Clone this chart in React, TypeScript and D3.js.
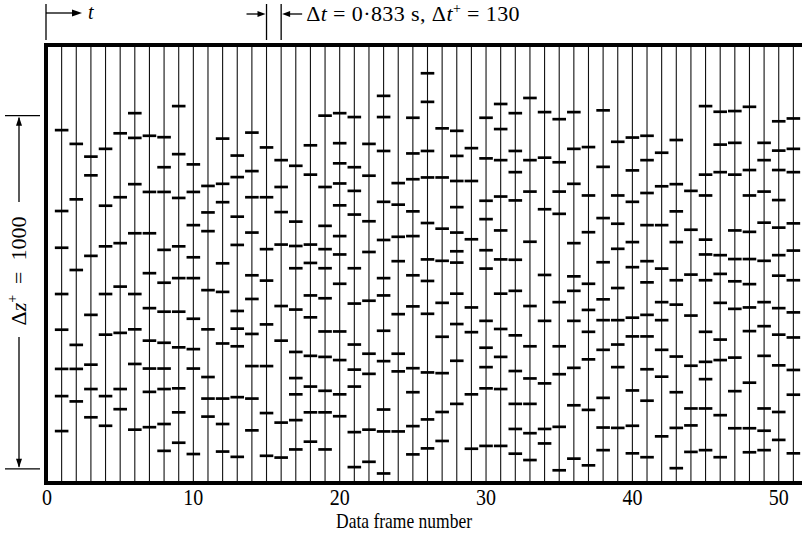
import React from 'react';
import * as d3 from 'd3';

const W = 802;
const H = 540;

// Tick labels on the frame axis
const tickFrames = [0, 10, 20, 30, 40, 50];
const tickLabels = ['0', '10', '20', '30', '40', '50'];

// Last frame line drawn (partly outside the view)
const frameCount = 52;

// Heights (Δz⁺ units, from the bottom of the field) of the marks on each frame, frames 1..51
const dashZ: number[][] = [
  [999, 770, 666, 535, 434, 323, 246, 147],
  [960, 803, 603, 391, 323, 231],
  [924, 871, 643, 476, 335, 266, 186],
  [946, 785, 670, 535, 420, 246, 162],
  [990, 809, 679, 556, 425, 266, 209],
  [1047, 977, 846, 707, 535, 435, 337, 151],
  [983, 824, 707, 594, 495, 403, 324, 258, 158],
  [979, 894, 824, 660, 567, 485, 397, 324, 266, 167, 91],
  [1067, 931, 807, 670, 580, 485, 384, 268, 200, 114],
  [902, 824, 730, 639, 580, 465, 379, 324, 82],
  [841, 766, 713, 546, 435, 300, 239, 188],
  [975, 847, 795, 622, 541, 395, 239, 167, 89],
  [927, 866, 754, 674, 487, 437, 387, 243, 74],
  [992, 883, 809, 709, 588, 521, 422, 331, 239, 149],
  [950, 809, 662, 573, 449, 331, 198, 77],
  [914, 838, 767, 675, 501, 403, 171, 72],
  [898, 740, 671, 608, 491, 371, 297, 251, 178, 95],
  [956, 873, 675, 623, 531, 469, 360, 273, 200, 117],
  [1040, 838, 728, 662, 608, 523, 429, 357, 261, 200, 95],
  [1047, 962, 905, 848, 786, 699, 647, 564, 429, 348, 251, 189],
  [1036, 894, 827, 760, 608, 508, 392, 321, 273, 144, 45],
  [960, 870, 741, 654, 516, 366, 309, 151, 60],
  [1096, 1036, 940, 796, 688, 580, 531, 431, 345, 208, 146, 27],
  [849, 788, 697, 628, 478, 366, 316, 146],
  [1034, 933, 860, 769, 699, 588, 500, 325, 257, 161, 81],
  [1160, 1079, 940, 865, 736, 633, 572, 479, 313, 180, 98],
  [1004, 865, 720, 629, 510, 414, 311, 201, 119],
  [997, 926, 855, 781, 709, 656, 624, 536, 450, 346, 224],
  [948, 855, 690, 497, 427, 251, 97],
  [1034, 919, 799, 747, 659, 607, 459, 383, 328, 268, 105],
  [1073, 1002, 914, 811, 715, 633, 536, 436, 357, 266, 105],
  [1047, 940, 880, 800, 632, 544, 418, 317, 224, 153, 83],
  [1090, 914, 825, 683, 501, 387, 296, 224, 141, 65],
  [1050, 921, 775, 589, 459, 282, 153, 112],
  [1030, 908, 825, 762, 512, 387, 308, 159, 36],
  [1050, 946, 847, 679, 585, 544, 459, 326, 220, 69],
  [951, 814, 710, 564, 490, 428, 350, 207, 50],
  [1055, 895, 750, 625, 520, 461, 377, 241, 157, 93],
  [966, 814, 734, 663, 552, 461, 392, 328, 156],
  [978, 885, 796, 682, 611, 468, 415, 262, 162, 84],
  [983, 914, 821, 730, 628, 568, 476, 415, 322, 233, 73],
  [935, 840, 730, 607, 512, 461, 377, 301, 132],
  [971, 846, 769, 682, 574, 505, 358, 257, 156, 42],
  [827, 717, 590, 474, 332, 211, 163, 88],
  [1067, 873, 814, 689, 647, 574, 428, 343, 294, 211, 93],
  [1051, 958, 880, 645, 592, 510, 406, 348, 192, 73],
  [1053, 963, 873, 715, 634, 571, 493, 355, 260, 155],
  [1065, 886, 814, 711, 634, 563, 497, 430, 284, 155, 87],
  [963, 914, 825, 737, 629, 512, 444, 360, 211, 148, 93],
  [1024, 941, 886, 801, 723, 645, 587, 495, 420, 333, 201, 122],
  [1032, 946, 880, 735, 658, 574, 483, 412, 320, 250, 84],
];

// Scale bar and time-step annotation values
const zBar = [40, 1040];
const stepFrames = [15, 16];

const SERIF = '"Liberation Serif", "DejaVu Serif", serif';
const SP = '\u2002';

export default function App() {
  const x = d3.scaleLinear().domain([0, frameCount]).range([47, 808]);
  const y = d3.scaleLinear().domain([0, 1240]).range([483, 45]);

  const frameLines = d3.range(1, frameCount + 1);
  const dashes = dashZ.flatMap((zs, i) => zs.map((z) => ({ f: i + 1, z })));

  const yTop = y(1240);
  const yBot = y(0);
  const barTop = y(zBar[1]);
  const barBot = y(zBar[0]);
  const barMid = 271;

  const s0 = x(stepFrames[0]);
  const s1 = x(stepFrames[1]);
  const tx = x(0) - 1;

  return (
    <div style={{ position: 'absolute', left: 0, top: 0 }}>
      <svg width={W} height={H} viewBox={`0 0 ${W} ${H}`} style={{ display: 'block', background: '#fff' }}>
        <defs>
          <clipPath id="clip">
            <rect x={0} y={0} width={W} height={H} />
          </clipPath>
        </defs>
        <g clipPath="url(#clip)">
          {frameLines.map((f) => (
            <line key={'v' + f} x1={x(f)} x2={x(f)} y1={yTop} y2={yBot} stroke="#111" strokeWidth={1.1} />
          ))}
          {dashes.map((d, i) => (
            <line
              key={'d' + i}
              x1={x(d.f) - 6.8}
              x2={x(d.f) + 6.8}
              y1={y(d.z)}
              y2={y(d.z)}
              stroke="#000"
              strokeWidth={2.7}
            />
          ))}
          <line x1={x(0) - 3} x2={W} y1={yTop} y2={yTop} stroke="#000" strokeWidth={4} />
          <line x1={x(0) - 3} x2={W} y1={yBot} y2={yBot} stroke="#000" strokeWidth={4} />
          <line x1={x(0) - 1} x2={x(0) - 1} y1={yTop - 2} y2={yBot + 2} stroke="#000" strokeWidth={4} />
        </g>

        {tickFrames.map((f, i) => (
          <text
            key={'t' + f}
            transform={`translate(${x(f)}, 505) scale(1, 1.15)`}
            textAnchor="middle"
            fontFamily={SERIF}
            fontSize={20}
            fill="#000"
          >
            {tickLabels[i]}
          </text>
        ))}
        <text
          transform="translate(404, 528) scale(1, 1.22)"
          textAnchor="middle"
          fontFamily={SERIF}
          fontSize={17.5}
          fill="#000"
        >
          Data frame number
        </text>

        {/* time arrow top left */}
        <line x1={tx} x2={tx} y1={4} y2={40} stroke="#000" strokeWidth={1.3} />
        <line x1={tx} x2={74} y1={13} y2={13} stroke="#000" strokeWidth={1.3} />
        <path d="M 82 13 L 72 9.5 L 72 16.5 Z" fill="#000" />
        <text x={88} y={19} fontFamily={SERIF} fontStyle="italic" fontSize={20} fill="#000">t</text>

        {/* time step marker */}
        <line x1={s0} x2={s0} y1={4} y2={40} stroke="#000" strokeWidth={1.3} />
        <line x1={s1} x2={s1} y1={4} y2={40} stroke="#000" strokeWidth={1.3} />
        <line x1={s0 - 20} x2={s0 - 6} y1={14} y2={14} stroke="#000" strokeWidth={1.3} />
        <path d={`M ${s0 - 1} 14 L ${s0 - 9} 11 L ${s0 - 9} 17 Z`} fill="#000" />
        <line x1={s1 + 6} x2={s1 + 21} y1={14} y2={14} stroke="#000" strokeWidth={1.3} />
        <path d={`M ${s1 + 1} 14 L ${s1 + 9} 11 L ${s1 + 9} 17 Z`} fill="#000" />
        <text x={s1 + 25} y={21} fontFamily={SERIF} fontSize={22} letterSpacing={0.4} fill="#000">
          <tspan>Δ</tspan>
          <tspan fontStyle="italic">t</tspan>
          <tspan>{' = 0·833 s, Δ'}</tspan>
          <tspan fontStyle="italic">t</tspan>
          <tspan fontSize={14} dy={-8}>+</tspan>
          <tspan dy={8}>{' = 130'}</tspan>
        </text>

        {/* Δz⁺ scale bar */}
        <line x1={5} x2={40} y1={barTop} y2={barTop} stroke="#000" strokeWidth={1.3} />
        <line x1={5} x2={40} y1={barBot} y2={barBot} stroke="#000" strokeWidth={1.3} />
        <line x1={19} x2={19} y1={barTop + 2} y2={barMid - 69} stroke="#000" strokeWidth={1.3} />
        <line x1={19} x2={19} y1={barMid + 66} y2={barBot - 2} stroke="#000" strokeWidth={1.3} />
        <path d={`M 19 ${barTop + 1} L 16 ${barTop + 10} L 22 ${barTop + 10} Z`} fill="#000" />
        <path d={`M 19 ${barBot - 1} L 16 ${barBot - 10} L 22 ${barBot - 10} Z`} fill="#000" />
        <text
          transform={`translate(26, ${barMid}) rotate(-90)`}
          textAnchor="middle"
          fontFamily={SERIF}
          fontSize={22}
          fill="#000"
        >
          <tspan>Δ</tspan>
          <tspan fontStyle="italic">z</tspan>
          <tspan fontSize={14} dy={-9}>+</tspan>
          <tspan dy={9}>{`${SP}=${SP}1000`}</tspan>
        </text>
      </svg>
    </div>
  );
}
